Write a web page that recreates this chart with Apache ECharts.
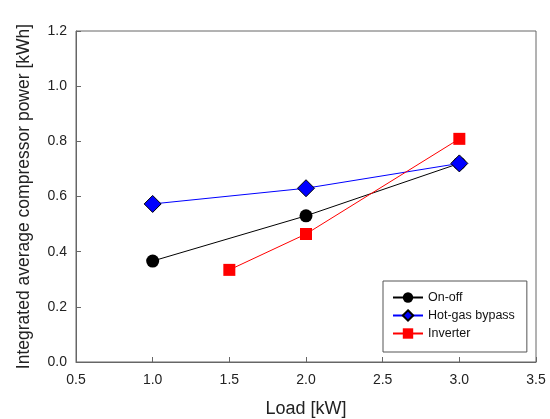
<!DOCTYPE html>
<html>
<head>
<meta charset="utf-8">
<script src="https://cdn.jsdelivr.net/npm/echarts@6/dist/echarts.min.js"></script>
<style>
  html, body { margin: 0; padding: 0; background: #fff; }
  #chart { width: 550px; height: 419px; }
</style>
</head>
<body>
<div id="chart"></div>
<script>
// Compressor power vs. load for three capacity-control methods
const onOffLoad = [1.0, 2.0, 3.0];
const onOffPower = [0.366, 0.530, 0.720];
const hotGasLoad = [1.0, 2.0, 3.0];
const hotGasPower = [0.573, 0.630, 0.720];
const inverterLoad = [1.5, 2.0, 3.0];
const inverterPower = [0.334, 0.464, 0.809];

const pairs = (xs, ys) => xs.map((x, i) => [x, ys[i]]);

const font = '"Liberation Sans", Arial, sans-serif';
const axisGrey = '#666666';

const chart = echarts.init(document.getElementById('chart'));
chart.setOption({
  animation: false,
  grid: {
    left: 76, right: 14, top: 31, bottom: 57,
    outerBoundsMode: 'none', containLabel: false,
    show: true, borderColor: axisGrey, borderWidth: 1, backgroundColor: '#fff'
  },
  xAxis: {
    type: 'value', min: 0.5, max: 3.5, interval: 0.5,
    name: 'Load [kW]', nameLocation: 'middle', nameGap: 38,
    nameTextStyle: { fontFamily: font, fontSize: 18, color: '#222' },
    axisLine: { lineStyle: { color: axisGrey, width: 1 } },
    axisTick: { inside: true, length: 5, lineStyle: { color: axisGrey } },
    axisLabel: { fontFamily: font, fontSize: 14, color: '#222', margin: 11,
      formatter: v => v.toFixed(1) },
    splitLine: { show: false }
  },
  yAxis: {
    type: 'value', min: 0, max: 1.2, interval: 0.2,
    name: 'Integrated average compressor power [kWh]', nameLocation: 'middle', nameGap: 43,
    nameMoveOverlap: false,
    nameTextStyle: { fontFamily: font, fontSize: 17.5, color: '#222' },
    axisLine: { show: true, lineStyle: { color: axisGrey, width: 1 } },
    axisTick: { show: true, inside: true, length: 5, lineStyle: { color: axisGrey } },
    axisLabel: { fontFamily: font, fontSize: 14, color: '#222', margin: 9,
      formatter: v => v.toFixed(1) },
    splitLine: { show: false }
  },
  legend: {
    orient: 'vertical', left: 383, top: 281,
    backgroundColor: '#fff', borderColor: '#555', borderWidth: 1, borderRadius: 0,
    padding: [10, 12, 12, 9], itemGap: 5, itemWidth: 30, itemHeight: 13,
    textStyle: { fontFamily: font, fontSize: 12.5, color: '#111' },
    data: ['On-off', 'Hot-gas bypass', 'Inverter']
  },
  series: [
    {
      name: 'On-off', type: 'line', data: pairs(onOffLoad, onOffPower),
      symbol: 'circle', symbolSize: 13,
      lineStyle: { color: '#000', width: 1 },
      itemStyle: { color: '#000', borderColor: '#000', borderWidth: 0 }
    },
    {
      name: 'Hot-gas bypass', type: 'line', data: pairs(hotGasLoad, hotGasPower),
      symbol: 'diamond', symbolSize: 17,
      lineStyle: { color: '#0000ff', width: 1 },
      itemStyle: { color: '#0000ff', borderColor: '#000', borderWidth: 1 }
    },
    {
      name: 'Inverter', type: 'line', data: pairs(inverterLoad, inverterPower),
      symbol: 'rect', symbolSize: 12,
      lineStyle: { color: '#ff0000', width: 1 },
      itemStyle: { color: '#ff0000', borderWidth: 0 }
    }
  ]
});
</script>
</body>
</html>
